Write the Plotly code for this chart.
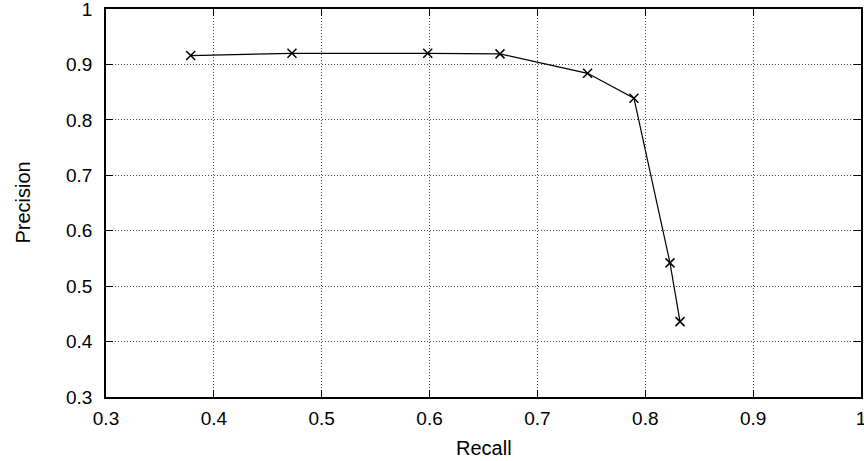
import plotly.graph_objects as go

recall = [0.3785, 0.4724, 0.5983, 0.6653, 0.7465, 0.7895, 0.8229, 0.8322]
precision = [0.916, 0.920, 0.920, 0.919, 0.884, 0.839, 0.542, 0.436]
tick_vals = [0.3, 0.4, 0.5, 0.6, 0.7, 0.8, 0.9, 1.0]
tick_text = ["0.3", "0.4", "0.5", "0.6", "0.7", "0.8", "0.9", "1"]

fig = go.Figure()
fig.add_trace(go.Scatter(
    x=recall, y=precision, mode="lines+markers",
    line=dict(color="black", width=1.2),
    marker=dict(symbol="x-thin", size=9, line=dict(color="black", width=1.5)),
    showlegend=False,
))

tick_font = dict(family="Liberation Sans, Arial, sans-serif", size=19, color="black")
title_font = dict(family="Liberation Sans, Arial, sans-serif", size=20, color="black")
axis_common = dict(
    showline=True, linecolor="black", linewidth=1.5, mirror="ticks",
    ticks="inside", ticklen=7, tickcolor="black", tickwidth=1,
    showgrid=True, gridcolor="#444", griddash="1px,2px", gridwidth=1,
    zeroline=False, tickfont=tick_font,
    ticklabeloverflow="allow",
    tickvals=tick_vals, ticktext=tick_text, automargin=False,
)
fig.update_xaxes(range=[0.3, 1.0], ticklabelstandoff=3, **axis_common)
fig.update_yaxes(range=[0.3, 1.0], ticklabelstandoff=8, **axis_common)
fig.add_annotation(text="Recall", xref="paper", yref="paper", x=0.5, y=-0.1314,
                   xanchor="center", yanchor="middle", showarrow=False, font=title_font)
fig.add_annotation(text="Precision", xref="paper", yref="paper", x=-0.1099, y=0.5013,
                   xanchor="center", yanchor="middle", textangle=-90, showarrow=False,
                   font=title_font)
fig.update_layout(
    width=864, height=461,
    margin=dict(l=106, r=3, t=9, b=64),
    plot_bgcolor="white", paper_bgcolor="white",
    font=tick_font,
)
fig.write_html(
    "out.html",
    config={"displayModeBar": False},
    post_script="document.body.style.margin='0';document.body.style.overflow='hidden';",
)
